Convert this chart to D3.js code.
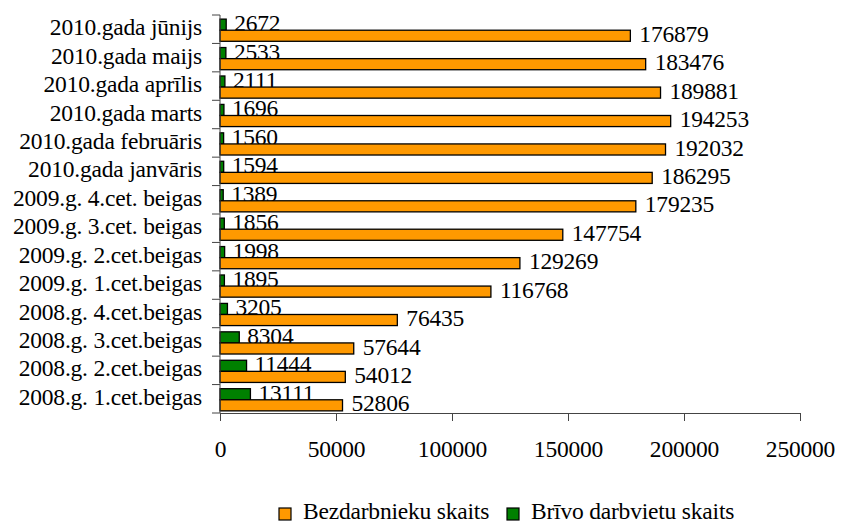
<!DOCTYPE html>
<html>
<head>
<meta charset="utf-8">
<script src="https://cdn.jsdelivr.net/npm/d3@7"></script>
<style>
  html, body { margin: 0; padding: 0; background: #fff; }
  svg { display: block; }
</style>
</head>
<body>
<svg id="chart" width="841" height="524"></svg>
<script>
// Data (chronological order, bottom to top in the chart)
const categories = [
  "2008.g. 1.cet.beigas",
  "2008.g. 2.cet.beigas",
  "2008.g. 3.cet.beigas",
  "2008.g. 4.cet.beigas",
  "2009.g. 1.cet.beigas",
  "2009.g. 2.cet.beigas",
  "2009.g. 3.cet. beigas",
  "2009.g. 4.cet. beigas",
  "2010.gada janvāris",
  "2010.gada februāris",
  "2010.gada marts",
  "2010.gada aprīlis",
  "2010.gada maijs",
  "2010.gada jūnijs"
];
const unemployed = [52806, 54012, 57644, 76435, 116768, 129269, 147754, 179235, 186295, 192032, 194253, 189881, 183476, 176879];
const vacancies = [13111, 11444, 8304, 3205, 1895, 1998, 1856, 1389, 1594, 1560, 1696, 2111, 2533, 2672];
const seriesNames = ["Bezdarbnieku skaits", "Brīvo darbvietu skaits"];
const seriesColors = ["#FF9900", "#008000"];
const xTicks = [0, 50000, 100000, 150000, 200000, 250000];

const FONT = "'Liberation Serif', 'DejaVu Serif', serif";
const svg = d3.select("#chart").style("font-family", FONT);
const plot = { left: 220, right: 800, top: 15, bottom: 413 };
const FS = 23.5;
const LS = -0.2;

function styleText(sel) {
  return sel.style("font-family", FONT).style("font-size", FS + "px")
    .attr("letter-spacing", LS).attr("fill", "#000");
}

const x = d3.scaleLinear().domain([0, 250000]).range([plot.left, plot.right]);
const y = d3.scaleBand().domain(categories.slice().reverse()).range([plot.top, plot.bottom]).padding(0);
const bw = y.bandwidth();
const inner = d3.scaleBand().domain(["vac", "unemp"]).range([bw * 0.145, bw * 0.925]).padding(0);

const rows = categories.map((c, i) => ({ c, u: unemployed[i], v: vacancies[i] }));

// Green value labels (drawn first so orange bars overlap them)
styleText(svg.append("g").selectAll("text").data(rows).join("text")
  .attr("x", d => x(d.v) + 8)
  .attr("y", d => y(d.c) + inner("vac") + inner.bandwidth() + 1)
  .text(d => d.v));

// Green bars
svg.append("g").selectAll("rect").data(rows).join("rect")
  .attr("x", x(0))
  .attr("y", d => y(d.c) + inner("vac"))
  .attr("width", d => x(d.v) - x(0))
  .attr("height", inner.bandwidth())
  .attr("fill", seriesColors[1])
  .attr("stroke", "#000").attr("stroke-width", 1.3);

// Orange bars
svg.append("g").selectAll("rect").data(rows).join("rect")
  .attr("x", x(0))
  .attr("y", d => y(d.c) + inner("unemp"))
  .attr("width", d => x(d.u) - x(0))
  .attr("height", inner.bandwidth())
  .attr("fill", seriesColors[0])
  .attr("stroke", "#000").attr("stroke-width", 1.3);

// Orange value labels
styleText(svg.append("g").selectAll("text").data(rows).join("text")
  .attr("x", d => x(d.u) + 9)
  .attr("y", d => y(d.c) + inner("unemp") + inner.bandwidth() + 0.5)
  .text(d => d.u));

// Y axis line
const yAxis = d3.axisLeft(y).tickSize(0).tickFormat(() => "");
const gy = svg.append("g").attr("transform", `translate(${plot.left},0)`).call(yAxis);
gy.select(".domain").attr("stroke", "#444").attr("d", `M0,${plot.top}V${plot.bottom}`);
gy.selectAll(".tick").remove();
// category boundary ticks
const bounds = d3.range(categories.length + 1).map(i => plot.top + i * bw);
svg.append("g").selectAll("line").data(bounds).join("line")
  .attr("x1", plot.left - 8).attr("x2", plot.left)
  .attr("y1", d => d).attr("y2", d => d)
  .attr("stroke", "#444").attr("stroke-width", 1);
// category labels
styleText(svg.append("g").selectAll("text").data(categories).join("text")
  .attr("x", 202)
  .attr("y", d => y(d) + bw / 2 + 6)
  .attr("text-anchor", "end")
  .text(d => d));

// X axis
const xAxis = d3.axisBottom(x).tickValues(xTicks).tickSize(8).tickSizeOuter(0).tickFormat(d3.format("d"));
const gx = svg.append("g").attr("transform", `translate(0,${plot.bottom})`).call(xAxis);
gx.select(".domain").attr("stroke", "#444");
gx.selectAll(".tick line").attr("stroke", "#444");
styleText(gx.selectAll(".tick text"))
  .attr("y", 0).attr("dy", 0)
  .attr("transform", "translate(0,44)");

// Legend
const legend = svg.append("g");
const legendItems = [
  { name: seriesNames[0], color: seriesColors[0], x: 279 },
  { name: seriesNames[1], color: seriesColors[1], x: 507 }
];
legendItems.forEach(it => {
  legend.append("rect").attr("x", it.x).attr("y", 508).attr("width", 12).attr("height", 12)
    .attr("fill", it.color).attr("stroke", "#000").attr("stroke-width", 1.2);
  styleText(legend.append("text").attr("x", it.x + 24).attr("y", 519)).text(it.name);
});
</script>
</body>
</html>
